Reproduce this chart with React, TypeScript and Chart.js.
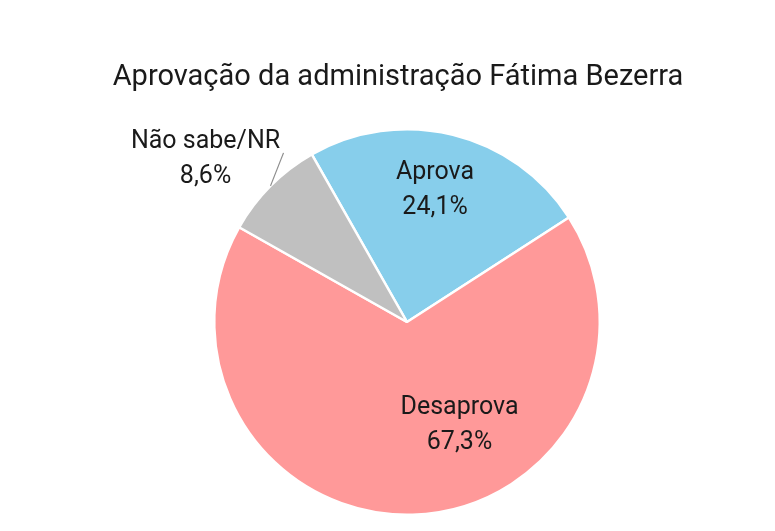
import React, { useEffect, useRef } from "react";
import { Chart, registerables } from "chart.js";

Chart.register(...registerables);

const categories = ["Aprova", "Desaprova", "Não sabe/NR"];
const values = [24.1, 67.3, 8.6];
const valueLabels = ["24,1%", "67,3%", "8,6%"];
const colors = ["#87CEEB", "#FF9999", "#C0C0C0"];
const titleText = "Aprovação da administração Fátima Bezerra";

const FONT = "Roboto, 'Noto Sans', sans-serif";

// label anchor: angle (deg clockwise from top) and distance as a fraction of the radius
const labelAnchors = [
  { angle: 12, dist: 0.7 },
  { angle: 153, dist: 0.6 },
  { angle: -51, dist: 1.345 },
];

const labelPlugin = {
  id: "pieLabels",
  afterDraw(chart: Chart) {
    const ctx = chart.ctx;
    const meta = chart.getDatasetMeta(0);
    ctx.save();
    ctx.fillStyle = "#1a1a1a";
    ctx.font = `29px ${FONT}`;
    ctx.textAlign = "center";
    ctx.textBaseline = "middle";
    ctx.fillText(titleText, 398, 78);

    ctx.font = `25px ${FONT}`;
    meta.data.forEach((arc: any, i: number) => {
      const { x, y, startAngle, endAngle, outerRadius } = arc.getProps(
        ["x", "y", "startAngle", "endAngle", "outerRadius"],
        true
      );
      const a = ((labelAnchors[i].angle - 90) * Math.PI) / 180;
      const lx = x + Math.cos(a) * outerRadius * labelAnchors[i].dist;
      const ly = y + Math.sin(a) * outerRadius * labelAnchors[i].dist;
      if (i === 2) {
        const mid = (startAngle + endAngle) / 2;
        const ax = x + Math.cos(mid) * outerRadius;
        const ay = y + Math.sin(mid) * outerRadius;
        ctx.strokeStyle = "#8c8c8c";
        ctx.lineWidth = 1.2;
        ctx.beginPath();
        ctx.moveTo(ax, ay);
        ctx.lineTo(ax + 13, ay - 33);
        ctx.stroke();
      }
      ctx.fillStyle = "#1a1a1a";
      ctx.fillText(categories[i], lx, ly - 17.5);
      ctx.fillText(valueLabels[i], lx, ly + 17.5);
    });
    ctx.restore();
  },
};

export default function App() {
  const ref = useRef<HTMLCanvasElement | null>(null);
  const chartRef = useRef<Chart | null>(null);

  useEffect(() => {
    const ctx = ref.current?.getContext("2d");
    if (!ctx) return;
    chartRef.current?.destroy();
    chartRef.current = new Chart(ctx, {
      type: "pie",
      data: {
        labels: categories,
        datasets: [
          {
            data: values,
            backgroundColor: colors,
            borderColor: "#ffffff",
            borderWidth: 2.5,
          },
        ],
      },
      options: {
        animation: false,
        responsive: false,
        rotation: -29.6,
        layout: { padding: { left: 213, right: 174, top: 128, bottom: 15 } },
        plugins: {
          legend: { display: false },
          title: { display: false },
          tooltip: { enabled: false },
        },
      },
      plugins: [labelPlugin],
    });
    return () => chartRef.current?.destroy();
  }, []);

  return (
    <div style={{ position: "absolute", left: 0, top: 0, width: 775, height: 531, background: "#fff" }}>
      <canvas ref={ref} width={775} height={531} style={{ width: 775, height: 531 }} />
    </div>
  );
}
